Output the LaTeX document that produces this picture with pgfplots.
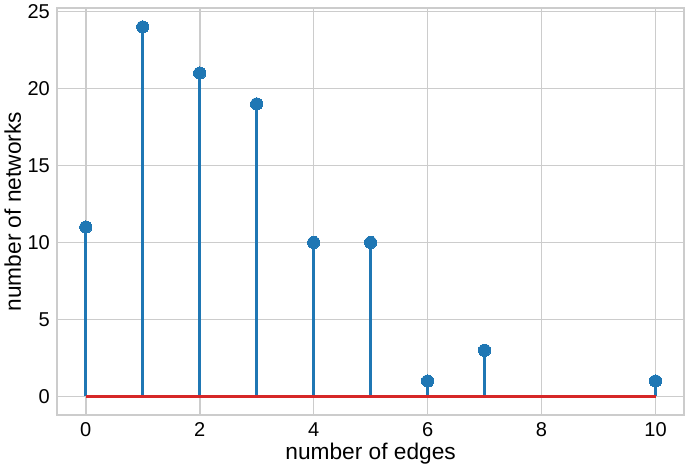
\documentclass[border=0pt]{standalone}
\usepackage{pgfplots}
\pgfplotsset{compat=1.18}
\usepackage{fontspec}
\setmainfont{Liberation Sans}
\definecolor{mblue}{HTML}{1F77B4}
\definecolor{mred}{HTML}{D62728}
\definecolor{gridgray}{HTML}{CCCCCC}
\begin{document}
\begin{tikzpicture}
\begin{axis}[
  scale only axis,
  width=469.5pt, height=304.5pt,
  xmin=-0.5, xmax=10.5,
  ymin=-1.2, ymax=25.2,
  xtick={0,2,4,6,8,10},
  ytick={0,5,10,15,20,25},
  grid=major,
  major grid style={gridgray, line width=1.2pt},
  axis line style={gridgray, line width=1.5pt},
  major tick length=0pt,
  tick label style={font=\fontsize{15}{17}\selectfont},
  xticklabel style={yshift=-2pt},
  yticklabel style={xshift=-2pt},
  /pgf/number format/assume math mode=true,
  xlabel={number of edges},
  ylabel={number of networks},
  label style={font=\fontsize{17}{19}\selectfont},
  xlabel style={yshift=2pt},
  ylabel style={yshift=-2pt},
  clip=false,
]
\addplot[ycomb, mblue, line width=2.2pt, mark=*, mark size=4.6pt, mark options={fill=mblue, draw=mblue, line width=0pt}]
  coordinates {(0,11) (1,24) (2,21) (3,19) (4,10) (5,10) (6,1) (7,3) (10,1)};
\addplot[mred, line width=2.2pt] coordinates {(0,0) (10,0)};
\end{axis}
\end{tikzpicture}
\end{document}
